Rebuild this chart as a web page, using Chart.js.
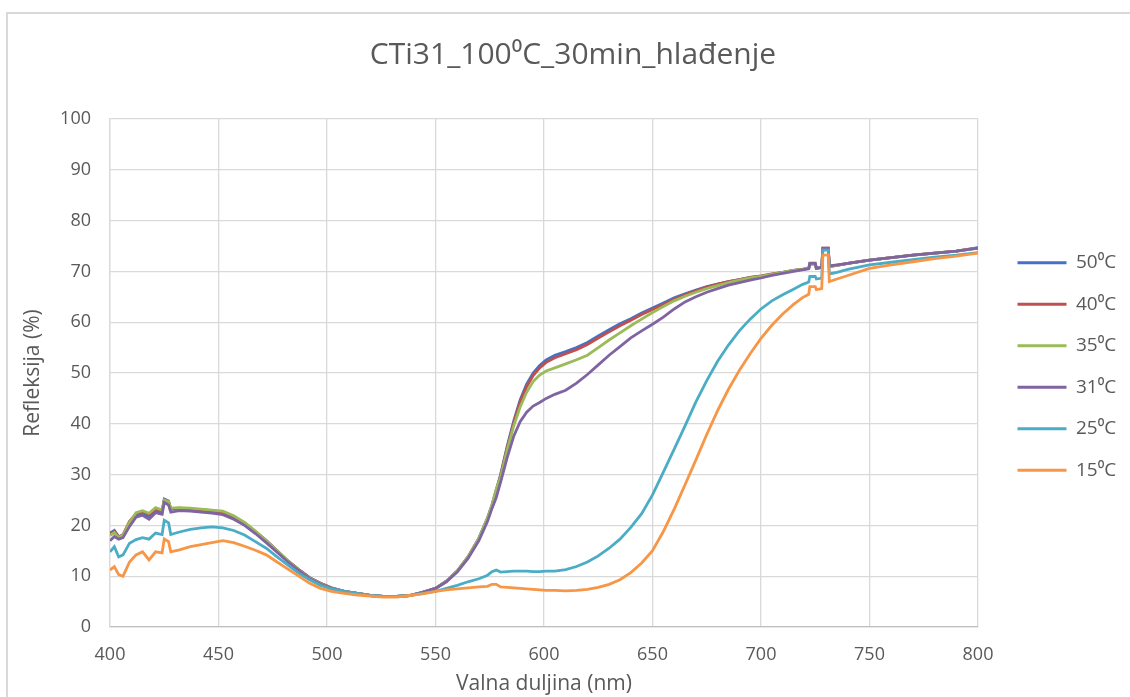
<!DOCTYPE html>
<html lang="hr">
<head>
  <meta charset="UTF-8" />
  <title>CTi31_100⁰C_30min_hlađenje</title>
  <script src="https://cdn.jsdelivr.net/npm/chart.js"></script>
  <style>
    html, body {
      margin: 0;
      padding: 0;
      background: #ffffff;
      overflow: hidden;
    }
    #frame {
      position: absolute;
      left: 6px;
      top: 12px;
      width: 1300px;
      height: 900px;
      border: 2px solid #d9d9d9;
    }
    #chartContainer {
      position: absolute;
      left: 0;
      top: 0;
      width: 1130px;
      height: 697px;
    }
  </style>
</head>
<body>
  <div id="frame"></div>
  <div id="chartContainer">
    <canvas id="reflChart"></canvas>
  </div>

  <script>
    // valna duljina (nm)
    const wavelengths = [
      400, 402, 404, 406, 409, 412, 415, 418, 421, 424,
      425, 427, 428, 432, 437, 442, 447, 452, 457, 462,
      467, 472, 477, 482, 487, 492, 497, 502, 508, 514,
      520, 526, 532, 538, 544, 550, 555, 560, 565, 570,
      574, 576, 578, 580, 583, 586, 589, 592, 595, 598,
      601, 605, 610, 615, 620, 625, 630, 635, 640, 645,
      650, 655, 660, 665, 670, 675, 680, 685, 690, 695,
      700, 705, 710, 715, 719, 722, 722.5, 725, 725.5, 728,
      728.5, 731, 731.5, 735, 740, 750, 760, 770, 780, 790,
      800
    ];

    const seriesNames = ["50⁰C", "40⁰C", "35⁰C", "31⁰C", "25⁰C", "15⁰C"];
    const seriesColors = ["#4472C4", "#C0504D", "#9BBB59", "#8064A2", "#4BACC6", "#F79646"];

    // refleksija (%)
    const r50 = [
      18.5, 19.0, 17.8, 18.0, 20.5, 22.0, 22.3, 21.8, 23.0, 22.5,
      25.2, 24.8, 23.2, 23.3, 23.1, 23.0, 22.8, 22.6, 21.7, 20.5,
      18.8, 17.0, 15.0, 13.0, 11.3, 9.7, 8.6, 7.7, 7.0, 6.6,
      6.2, 6.0, 6.0, 6.2, 6.8, 7.6, 9.0, 11.0, 13.8, 17.5,
      21.5, 24.0, 27.0, 30.0, 35.5, 40.5, 44.7, 47.8, 50.0, 51.5,
      52.6, 53.5, 54.2, 55.0, 56.0, 57.3, 58.5, 59.7, 60.7, 61.8,
      62.8, 63.8, 64.8, 65.6, 66.3, 67.0, 67.5, 68.0, 68.4, 68.8,
      69.0, 69.4, 69.8, 70.2, 70.4, 70.6, 71.5, 71.5, 70.6, 70.8,
      74.5, 74.5, 71.0, 71.2, 71.6, 72.2, 72.7, 73.2, 73.6, 74.0,
      74.7
    ];
    const r40 = [
      18.3, 18.8, 17.7, 18.2, 20.8, 22.3, 22.7, 22.2, 23.3, 22.8,
      25.0, 24.6, 23.3, 23.4, 23.2, 23.1, 22.9, 22.6, 21.7, 20.5,
      18.8, 17.0, 15.0, 13.0, 11.3, 9.7, 8.6, 7.7, 7.0, 6.6,
      6.2, 6.0, 6.0, 6.2, 6.8, 7.6, 9.0, 11.0, 13.8, 17.4,
      21.3, 23.8, 26.8, 29.8, 35.2, 40.1, 44.3, 47.3, 49.5, 51.0,
      52.1, 53.0, 53.8, 54.6, 55.6, 56.9, 58.1, 59.3, 60.4, 61.5,
      62.5, 63.5, 64.5, 65.4, 66.2, 66.9, 67.5, 68.0, 68.4, 68.8,
      69.1, 69.5, 69.8, 70.2, 70.4, 70.6, 71.5, 71.5, 70.6, 70.8,
      74.6, 74.6, 71.0, 71.2, 71.6, 72.2, 72.7, 73.2, 73.6, 74.0,
      74.6
    ];
    const r35 = [
      18.0, 18.6, 17.6, 18.1, 20.6, 22.5, 22.9, 22.4, 23.5, 23.0,
      25.0, 24.7, 23.4, 23.5, 23.4, 23.2, 23.0, 22.8, 21.9, 20.6,
      18.9, 17.0, 15.0, 13.0, 11.2, 9.6, 8.5, 7.6, 7.0, 6.6,
      6.2, 6.0, 6.0, 6.2, 6.8, 7.6, 9.0, 11.0, 13.8, 17.5,
      21.5, 24.0, 27.2, 29.5, 34.8, 39.5, 43.3, 46.2, 48.3, 49.6,
      50.4, 51.0, 51.8, 52.6, 53.5, 55.0, 56.5, 57.9, 59.3, 60.6,
      61.9, 63.1, 64.2, 65.1, 65.9, 66.6, 67.2, 67.8, 68.3, 68.7,
      69.0, 69.4, 69.8, 70.2, 70.4, 70.6, 71.5, 71.5, 70.6, 70.8,
      74.4, 74.4, 71.0, 71.2, 71.6, 72.2, 72.7, 73.2, 73.6, 74.0,
      74.6
    ];
    const r31 = [
      17.0, 17.8, 17.3, 17.6, 19.8, 21.6, 22.0, 21.2, 22.5, 22.2,
      24.5, 24.0, 22.6, 22.9, 22.8, 22.6, 22.4, 22.1, 21.2, 20.0,
      18.4, 16.6, 14.7, 12.8, 11.1, 9.5, 8.4, 7.6, 7.0, 6.6,
      6.2, 6.0, 6.0, 6.2, 6.8, 7.6, 8.9, 10.8, 13.5, 17.0,
      20.8, 23.3, 25.5, 28.5, 33.3, 37.5, 40.4, 42.3, 43.5, 44.2,
      45.0, 45.8, 46.6, 48.0, 49.7, 51.6, 53.5, 55.2, 56.9, 58.3,
      59.6, 61.0, 62.6, 64.0, 65.0, 65.9, 66.6, 67.3, 67.8, 68.3,
      68.7, 69.2, 69.6, 70.0, 70.3, 70.5, 71.6, 71.6, 70.6, 70.8,
      74.6, 74.6, 71.1, 71.3, 71.6, 72.2, 72.7, 73.2, 73.6, 74.0,
      74.6
    ];
    const r25 = [
      14.8, 15.8, 13.8, 14.2, 16.5, 17.2, 17.6, 17.3, 18.5, 18.2,
      21.0, 20.5, 18.2, 18.7, 19.2, 19.5, 19.7, 19.5, 19.0, 18.1,
      16.8, 15.5, 13.8, 12.2, 10.6, 9.3, 8.2, 7.5, 7.0, 6.6,
      6.2, 6.0, 6.0, 6.2, 6.6, 7.0, 7.6, 8.2, 8.9, 9.5,
      10.2, 10.9, 11.2, 10.8, 10.9, 11.0, 11.0, 11.0, 10.9, 10.9,
      11.0, 11.0, 11.3, 11.9, 12.8, 14.0, 15.5, 17.3, 19.6, 22.3,
      26.0, 30.5, 35.0, 39.6, 44.3, 48.5, 52.3, 55.5, 58.3, 60.6,
      62.6, 64.2, 65.4, 66.5, 67.4, 67.9, 69.0, 69.0, 68.5, 68.7,
      74.2, 74.2, 69.5, 69.8, 70.4, 71.3, 71.8, 72.3, 72.8, 73.2,
      73.7
    ];
    const r15 = [
      11.2, 11.9, 10.3, 10.0, 12.8, 14.2, 14.8, 13.2, 14.8, 14.6,
      17.3, 16.8, 14.8, 15.2, 15.8, 16.2, 16.6, 17.0, 16.6, 15.9,
      15.1, 14.2, 12.8, 11.4, 10.0, 8.6, 7.6, 7.0, 6.6, 6.3,
      6.1, 5.9, 5.9, 6.2, 6.5, 7.0, 7.3, 7.5, 7.7, 7.9,
      8.0, 8.4, 8.4, 7.9, 7.8, 7.7, 7.6, 7.5, 7.4, 7.3,
      7.2, 7.2, 7.1, 7.2, 7.4, 7.8, 8.4, 9.3, 10.7, 12.6,
      15.0, 18.8, 23.2, 28.0, 32.9, 37.9, 42.6, 46.8, 50.5, 53.8,
      56.8, 59.4, 61.6, 63.5, 64.8, 65.5, 67.0, 67.0, 66.4, 66.6,
      73.2, 73.2, 68.0, 68.5, 69.2, 70.6, 71.3, 71.9, 72.5, 73.0,
      73.6
    ];

    const allSeries = [r50, r40, r35, r31, r25, r15];
    const textColor = "#595959";
    const gridColor = "#d9d9d9";
    const fontFamily = "'Open Sans', 'Liberation Sans', sans-serif";

    // Excel crta kasnije serije preko ranijih
    const datasets = allSeries.map((vals, i) => ({
      label: seriesNames[i],
      data: wavelengths.map((x, j) => ({ x: x, y: vals[j] })),
      borderColor: seriesColors[i],
      backgroundColor: seriesColors[i],
      borderWidth: 2.8,
      pointRadius: 0,
      pointStyle: "line",
      tension: 0,
      order: allSeries.length - i
    }));

    // legenda: fiksna sirina i pomak kao u Excelu, naslov malo desno
    const layoutTweaks = {
      id: "layoutTweaks",
      afterInit(chart) {
        const lg = chart.legend;
        const fit = lg.fit;
        lg.fit = function () {
          fit.call(this);
          this.width = 152;
        };
      },
      afterLayout(chart) {
        const lg = chart.legend;
        lg.left += 17; lg.right += 17;
        lg.top += 18; lg.bottom += 18;
        const tb = chart.titleBlock;
        tb.left += 8; tb.right += 8;
      }
    };

    const ctx = document.getElementById("reflChart").getContext("2d");
    new Chart(ctx, {
      type: "line",
      data: { datasets: datasets },
      plugins: [layoutTweaks],
      options: {
        responsive: true,
        maintainAspectRatio: false,
        animation: false,
        layout: { padding: 0 },
        scales: {
          x: {
            type: "linear",
            min: 400,
            max: 800,
            afterFit(scale) { scale.height = 70; },
            ticks: {
              stepSize: 50,
              padding: 17,
              color: textColor,
              font: { family: fontFamily, size: 18 }
            },
            grid: { color: gridColor, lineWidth: 1.3, drawTicks: false },
            border: { color: "#bfbfbf", width: 1.3 },
            title: {
              display: true,
              text: "Valna duljina (nm)",
              color: textColor,
              font: { family: fontFamily, size: 21, lineHeight: 1.2 },
              padding: { top: 0, bottom: 0 }
            }
          },
          y: {
            min: 0,
            max: 100,
            afterFit(scale) { scale.width = 110; },
            ticks: {
              stepSize: 10,
              padding: 19,
              color: textColor,
              font: { family: fontFamily, size: 18 }
            },
            grid: { color: gridColor, lineWidth: 1.3, drawTicks: false },
            border: { color: gridColor, width: 1.3 },
            title: {
              display: true,
              text: "Refleksija (%)",
              color: textColor,
              font: { family: fontFamily, size: 21, lineHeight: 1.2 },
              padding: { top: 20.4, bottom: 0 }
            }
          }
        },
        plugins: {
          title: {
            display: true,
            text: "CTi31_100⁰C_30min_hlađenje",
            color: textColor,
            font: { family: fontFamily, size: 30, weight: "normal", lineHeight: 1.2 },
            padding: { top: 37, bottom: 46 }
          },
          legend: {
            display: true,
            position: "right",
            labels: {
              usePointStyle: true,
              pointStyleWidth: 49,
              boxHeight: 3,
              padding: 22.5,
              color: textColor,
              font: { family: fontFamily, size: 19 },
              sort: (a, b) => a.datasetIndex - b.datasetIndex
            }
          },
          tooltip: { enabled: false }
        }
      }
    });
  </script>
</body>
</html>
